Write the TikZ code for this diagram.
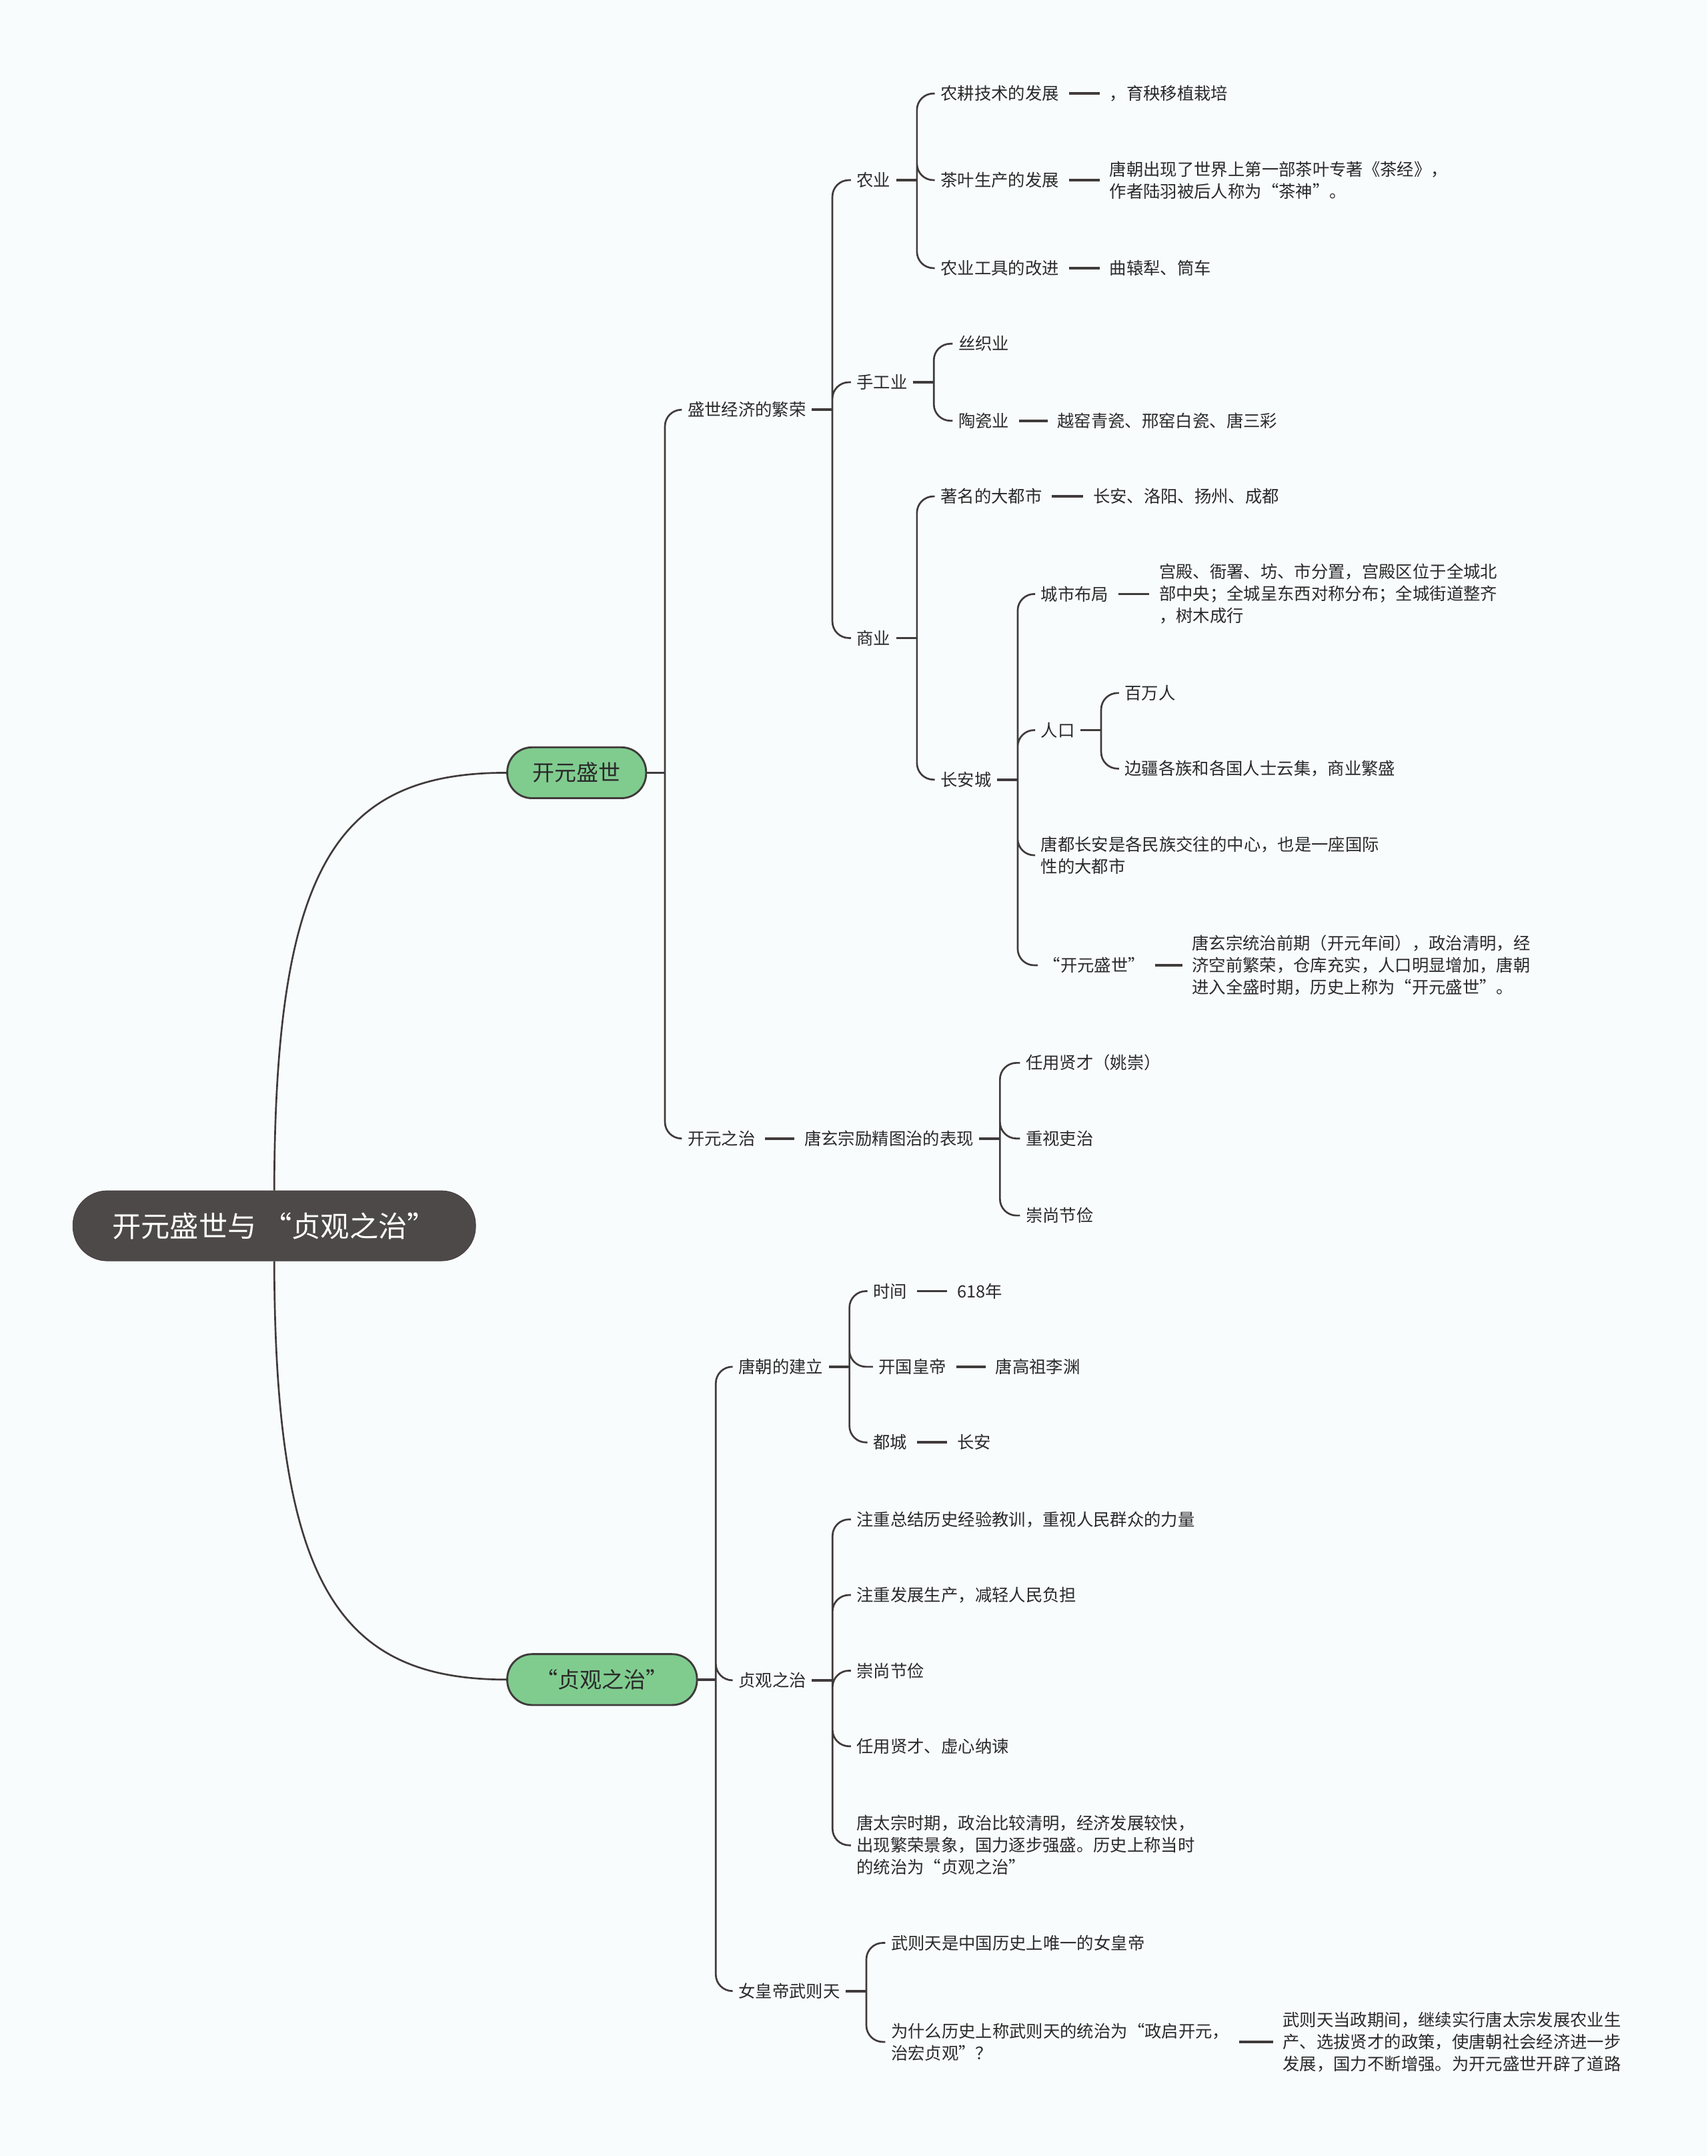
\documentclass[tikz,border=0pt]{standalone}
\usepackage{fontspec}
\setmainfont{Noto Sans CJK SC}
\usepackage{xcolor}
\usepackage{tikz}

\definecolor{bgcol}{HTML}{F9FCFD}
\definecolor{linecol}{HTML}{403B3B}
\definecolor{rootcol}{HTML}{4E4949}
\definecolor{greencol}{HTML}{80CC8F}
\definecolor{txtcol}{HTML}{2A2A2A}

\begin{document}
\begin{tikzpicture}[x=1pt, y=-1pt,
      leaf/.style={anchor=west, inner xsep=4pt, inner ysep=2pt, align=left, text=txtcol, font=\fontsize{12.3}{16}\selectfont},
      topic/.style={rectangle, rounded corners=18pt, draw=linecol, line width=1.4pt, fill=greencol, minimum height=37pt, text=txtcol, font=\fontsize{16}{19}\selectfont},
      link/.style={draw=linecol, line width=1.3pt, rounded corners=12pt},
      stub/.style={draw=linecol, line width=1.8pt},
      bar/.style={draw=linecol, line width=1.8pt, shorten <=3pt, shorten >=3pt}
    ]
      \fill[bgcol] (0,0) rectangle (1242,1568);
      \useasboundingbox (0,0) rectangle (1242,1568);

      \node[rectangle, rounded corners=25pt, draw=linecol, fill=rootcol, minimum width=293pt, minimum height=51pt, text=white, font=\fontsize{21}{24}\selectfont] (root) at (199.5,891.5) {开元盛世与 “贞观之治”};

      \node[topic, minimum width=101pt] (kysh) at (419.5,562) {开元盛世};
      \node[topic, minimum width=138pt] (zgzz) at (438,1221.5) {“贞观之治”};

      \node[leaf] (ssjj)  at (496,298)  {盛世经济的繁荣};
      \node[leaf] (nongye) at (619,131) {农业};
      \node[leaf] (ny1)   at (680,68)   {农耕技术的发展};
      \node[leaf] (ny1v)  at (803,68)   {，育秧移植栽培};
      \node[leaf] (ny2)   at (680,131)  {茶叶生产的发展};
      \node[leaf] (ny2v)  at (803,131)  {唐朝出现了世界上第一部茶叶专著《茶经》，\\作者陆羽被后人称为“茶神”。};
      \node[leaf] (ny3)   at (680,195)  {农业工具的改进};
      \node[leaf] (ny3v)  at (803,195)  {曲辕犁、筒车};
      \node[leaf] (shougong) at (619,278) {手工业};
      \node[leaf] (sg1)   at (693,250)  {丝织业};
      \node[leaf] (sg2)   at (693,306)  {陶瓷业};
      \node[leaf] (sg2v)  at (765,306)  {越窑青瓷、邢窑白瓷、唐三彩};
      \node[leaf] (shangye) at (619,464) {商业};
      \node[leaf] (sy1)   at (680,361)  {著名的大都市};
      \node[leaf] (sy1v)  at (791,361)  {长安、洛阳、扬州、成都};
      \node[leaf] (changan) at (680,567) {长安城};
      \node[leaf] (ca1)   at (753,432)  {城市布局};
      \node[leaf] (ca1v)  at (839,432)  {宫殿、衙署、坊、市分置，宫殿区位于全城北\\部中央；全城呈东西对称分布；全城街道整齐\\，树木成行};
      \node[leaf] (renkou) at (753,531) {人口};
      \node[leaf] (rk1)   at (814,504)  {百万人};
      \node[leaf] (rk2)   at (814,559)  {边疆各族和各国人士云集，商业繁盛};
      \node[leaf] (ca3)   at (753,622)  {唐都长安是各民族交往的中心，也是一座国际\\性的大都市};
      \node[leaf] (ca4)   at (755,702)  {“开元盛世”};
      \node[leaf] (ca4v)  at (863,702)  {唐玄宗统治前期（开元年间），政治清明，经\\济空前繁荣，仓库充实，人口明显增加，唐朝\\进入全盛时期，历史上称为“开元盛世”。};

      \node[leaf] (kyzz)  at (496,828)  {开元之治};
      \node[leaf] (lijing) at (581,828) {唐玄宗励精图治的表现};
      \node[leaf] (lj1)   at (742,773)  {任用贤才（姚崇）};
      \node[leaf] (lj2)   at (742,828)  {重视吏治};
      \node[leaf] (lj3)   at (742,884)  {崇尚节俭};

      \node[leaf] (jianli) at (533,994) {唐朝的建立};
      \node[leaf] (jl1)   at (631,939)  {时间};
      \node[leaf] (jl1v)  at (692,939)  {618年};
      \node[leaf] (jl2)   at (635,994)  {开国皇帝};
      \node[leaf] (jl2v)  at (720,994)  {唐高祖李渊};
      \node[leaf] (jl3)   at (631,1049) {都城};
      \node[leaf] (jl3v)  at (692,1049) {长安};

      \node[leaf] (zhenguan) at (533,1222) {贞观之治};
      \node[leaf] (zg1)   at (619,1105) {注重总结历史经验教训，重视人民群众的力量};
      \node[leaf] (zg2)   at (619,1160) {注重发展生产，减轻人民负担};
      \node[leaf] (zg3)   at (619,1215) {崇尚节俭};
      \node[leaf] (zg4)   at (619,1270) {任用贤才、虚心纳谏};
      \node[leaf] (zg5)   at (619,1342) {唐太宗时期，政治比较清明，经济发展较快，\\出现繁荣景象，国力逐步强盛。历史上称当时\\的统治为“贞观之治”};

      \node[leaf] (wzt)   at (533,1448) {女皇帝武则天};
      \node[leaf] (wz1)   at (644,1413) {武则天是中国历史上唯一的女皇帝};
      \node[leaf] (wz2)   at (644,1485) {为什么历史上称武则天的统治为“政启开元，\\治宏贞观”？};
      \node[leaf] (wz2v)  at (929,1485) {武则天当政期间，继续实行唐太宗发展农业生\\产、选拔贤才的政策，使唐朝社会经济进一步\\发展，国力不断增强。为开元盛世开辟了道路};

      \draw[link] (root.north) .. controls (200,630) and (245,562) .. (kysh.west);
      \draw[link] (root.south) .. controls (200,1150) and (245,1221.5) .. (zgzz.west);

      \draw[stub] (kysh.east) -- ++(13,0) coordinate (kysh-j);
      \draw[link] (kysh-j) |- (ssjj.west) (kysh-j) |- (kyzz.west);
      \draw[stub] (ssjj.east) -- ++(15,0) coordinate (ssjj-j);
      \draw[link] (ssjj-j) |- (nongye.west) (ssjj-j) |- (shougong.west) (ssjj-j) |- (shangye.west);
      \draw[stub] (nongye.east) -- ++(15,0) coordinate (nongye-j);
      \draw[link] (nongye-j) |- (ny1.west) (nongye-j) |- (ny2.west) (nongye-j) |- (ny3.west);
      \draw[bar] (ny1) -- (ny1v);
      \draw[bar] (ny2) -- (ny2v);
      \draw[bar] (ny3) -- (ny3v);
      \draw[stub] (shougong.east) -- ++(15,0) coordinate (shougong-j);
      \draw[link] (shougong-j) |- (sg1.west) (shougong-j) |- (sg2.west);
      \draw[bar] (sg2) -- (sg2v);
      \draw[stub] (shangye.east) -- ++(15,0) coordinate (shangye-j);
      \draw[link] (shangye-j) |- (sy1.west) (shangye-j) |- (changan.west);
      \draw[bar] (sy1) -- (sy1v);
      \draw[stub] (changan.east) -- ++(15,0) coordinate (changan-j);
      \draw[link] (changan-j) |- (ca1.west) (changan-j) |- (renkou.west) (changan-j) |- (ca3.west) (changan-j) |- (ca4.west);
      \draw[bar] (ca1) -- (ca1v);
      \draw[stub] (renkou.east) -- ++(15,0) coordinate (renkou-j);
      \draw[link] (renkou-j) |- (rk1.west) (renkou-j) |- (rk2.west);
      \draw[bar] (ca4) -- (ca4v);
      \draw[bar] (kyzz) -- (lijing);
      \draw[stub] (lijing.east) -- ++(15,0) coordinate (lijing-j);
      \draw[link] (lijing-j) |- (lj1.west) (lijing-j) |- (lj2.west) (lijing-j) |- (lj3.west);

      \draw[stub] (zgzz.east) -- ++(13,0) coordinate (zgzz-j);
      \draw[link] (zgzz-j) |- (jianli.west) (zgzz-j) |- (zhenguan.west) (zgzz-j) |- (wzt.west);
      \draw[stub] (jianli.east) -- ++(15,0) coordinate (jianli-j);
      \draw[link] (jianli-j) |- (jl1.west) (jianli-j) |- (jl2.west) (jianli-j) |- (jl3.west);
      \draw[bar] (jl1) -- (jl1v);
      \draw[bar] (jl2) -- (jl2v);
      \draw[bar] (jl3) -- (jl3v);
      \draw[stub] (zhenguan.east) -- ++(15,0) coordinate (zhenguan-j);
      \draw[link] (zhenguan-j) |- (zg1.west) (zhenguan-j) |- (zg2.west) (zhenguan-j) |- (zg3.west) (zhenguan-j) |- (zg4.west) (zhenguan-j) |- (zg5.west);
      \draw[stub] (wzt.east) -- ++(15,0) coordinate (wzt-j);
      \draw[link] (wzt-j) |- (wz1.west) (wzt-j) |- (wz2.west);
      \draw[bar] (wz2) -- (wz2v);
    \end{tikzpicture}
\end{document}
